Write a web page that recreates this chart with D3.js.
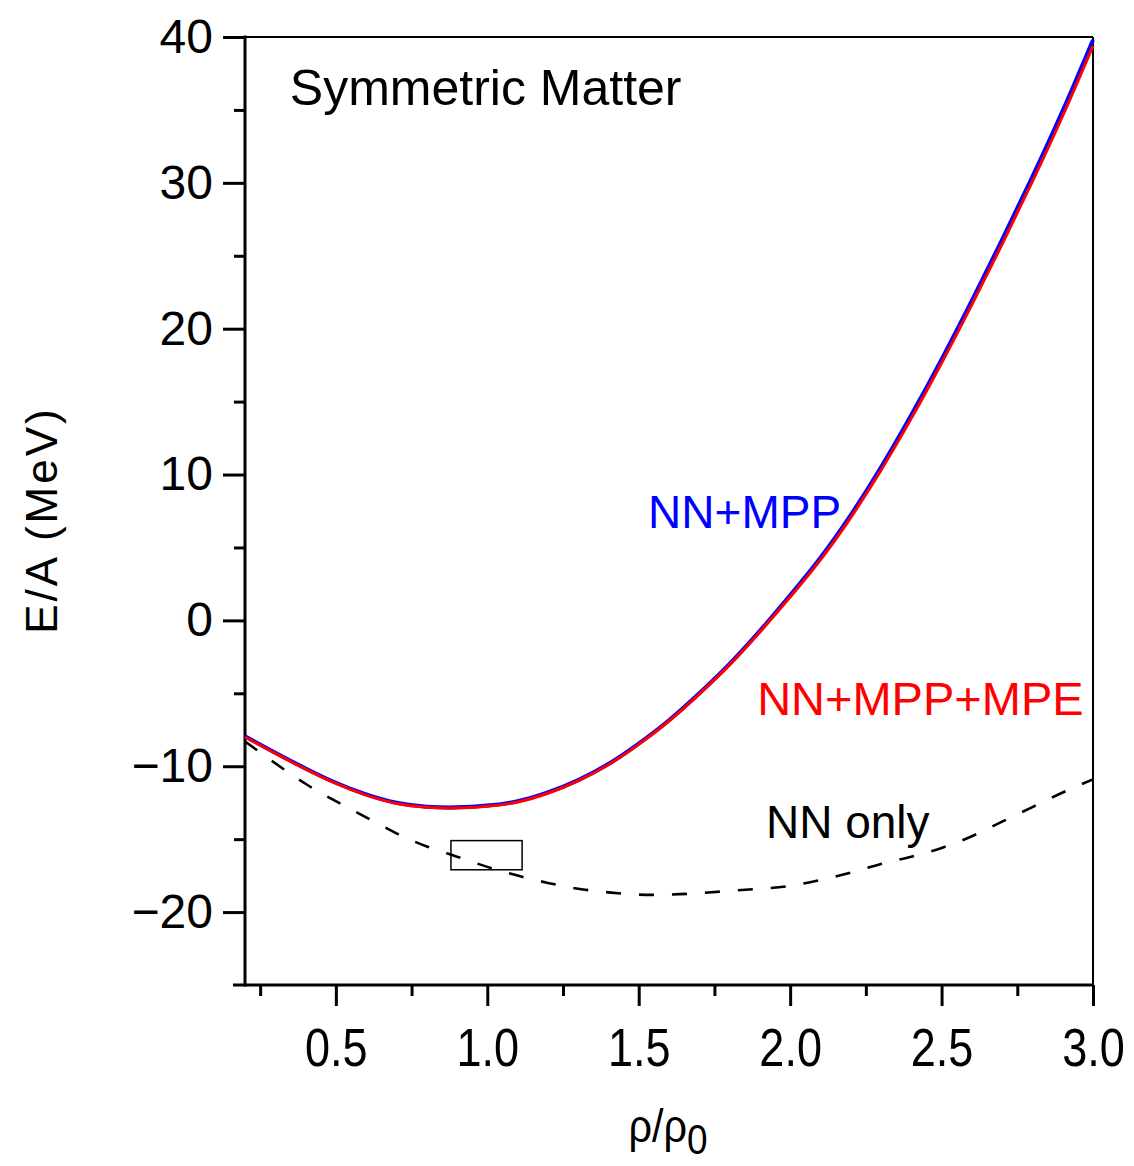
<!DOCTYPE html>
<html>
<head>
<meta charset="utf-8">
<script src="https://cdn.jsdelivr.net/npm/d3@7"></script>
<style>
  html, body { margin: 0; padding: 0; background: #fff; }
  svg { display: block; }
  text { font-family: "Liberation Sans", Arial, sans-serif; }
</style>
</head>
<body>
<svg id="chart" width="1134" height="1166"></svg>
<script>
// ---- data ----
const rho = [0.2,0.3,0.4,0.5,0.6,0.7,0.8,0.9,1.0,1.1,1.2,1.3,1.4,1.5,1.6,1.7,1.8,1.9,2.0,2.1,2.2,2.3,2.4,2.5,2.6,2.7,2.8,2.9,3.0];
const eMPP    = [-7.95,-9.07,-10.15,-11.13,-11.93,-12.5,-12.77,-12.82,-12.7,-12.4,-11.8,-10.95,-9.85,-8.45,-6.85,-5.0,-2.98,-0.72,1.72,4.3,7.22,10.5,14.08,17.9,21.92,26.1,30.42,34.95,39.8];
const eMPPMPE = [-8.0,-9.12,-10.2,-11.18,-11.98,-12.55,-12.82,-12.87,-12.75,-12.45,-11.85,-11.0,-9.9,-8.5,-6.9,-5.05,-3.05,-0.8,1.6,4.15,7.05,10.3,13.85,17.65,21.65,25.8,30.1,34.6,39.4];
const eNN     = [-8.3,-9.8,-11.2,-12.4,-13.5,-14.6,-15.5,-16.2,-16.9,-17.5,-18.0,-18.4,-18.65,-18.8,-18.8,-18.7,-18.55,-18.4,-18.2,-17.8,-17.3,-16.7,-16.2,-15.6,-14.8,-13.8,-12.8,-11.8,-10.9];
const xMajorTicks = [0.5,1.0,1.5,2.0,2.5,3.0];
const xMinorTicks = [0.25,0.75,1.25,1.75,2.25,2.75];
const yMajorTicks = [-20,-10,0,10,20,30,40];
const yMinorTicks = [-15,-5,5,15,25,35];
const boxRho = [0.88, 1.115];
const boxE = [-15.1, -17.1];
const labels = [
  {text: "Symmetric Matter", rho: 0.348, e: 35.34, color: "#000", size: 50},
  {text: "NN+MPP", rho: 1.531, e: 6.34, color: "#0000ff", size: 46},
  {text: "NN+MPP+MPE", rho: 1.891, e: -6.49, color: "#ff0000", size: 47},
  {text: "NN only", rho: 1.92, e: -14.92, color: "#000", size: 46}
];

// ---- layout ----
const L = 245, R = 1093, T = 37, B = 985;
const svg = d3.select("#chart");
const x = d3.scaleLinear().domain([0.2, 3.0]).range([L, R]);
const y = d3.scaleLinear().domain([-25, 40]).range([B, T]);

// axes
const fmtY = d => d < 0 ? "\u2212" + Math.abs(d) : String(d);
const gy = svg.append("g").attr("transform", `translate(${L},0)`)
  .call(d3.axisLeft(y).tickValues(yMajorTicks).tickSize(22).tickPadding(10).tickFormat(fmtY));
gy.select(".domain").remove();
gy.selectAll(".tick line").attr("stroke", "#000").attr("stroke-width", 3);
gy.selectAll(".tick text").attr("font-size", 48).attr("fill", "#000")
  .style("font-family", '"Liberation Sans", Arial, sans-serif');

const gyMinor = svg.append("g").attr("transform", `translate(${L},0)`)
  .call(d3.axisLeft(y).tickValues(yMinorTicks).tickSize(11).tickFormat(""));
gyMinor.select(".domain").remove();
gyMinor.selectAll(".tick line").attr("stroke", "#000").attr("stroke-width", 3);

const gx = svg.append("g").attr("transform", `translate(0,${B})`)
  .call(d3.axisBottom(x).tickValues(xMajorTicks).tickSize(21).tickPadding(22).tickFormat(d3.format(".1f")));
gx.select(".domain").remove();
gx.selectAll(".tick line").attr("stroke", "#000").attr("stroke-width", 3);
gx.selectAll(".tick text").attr("font-size", 53).attr("fill", "#000")
  .attr("transform", "scale(0.85,1)")
  .style("font-family", '"Liberation Sans", Arial, sans-serif');

const gxMinor = svg.append("g").attr("transform", `translate(0,${B})`)
  .call(d3.axisBottom(x).tickValues(xMinorTicks).tickSize(11).tickFormat(""));
gxMinor.select(".domain").remove();
gxMinor.selectAll(".tick line").attr("stroke", "#000").attr("stroke-width", 3);

// frame
svg.append("line").attr("x1", R).attr("x2", R).attr("y1", T).attr("y2", B)
  .attr("stroke", "#000").attr("stroke-width", 2);
svg.append("line").attr("x1", L).attr("x2", R).attr("y1", T).attr("y2", T)
  .attr("stroke", "#000").attr("stroke-width", 2);
svg.append("line").attr("x1", L).attr("x2", L).attr("y1", T - 1.5).attr("y2", B + 1.5)
  .attr("stroke", "#000").attr("stroke-width", 3);
svg.append("line").attr("x1", L - 12).attr("x2", R).attr("y1", B).attr("y2", B)
  .attr("stroke", "#000").attr("stroke-width", 3);

// curves
const line = d3.line().x(d => x(d[0])).y(d => y(d[1])).curve(d3.curveNatural);
svg.append("path").datum(rho.map((r, i) => [r, eNN[i]]))
  .attr("d", line).attr("fill", "none").attr("stroke", "#000")
  .attr("stroke-width", 2.6).attr("stroke-dasharray", "15,18");
svg.append("path").datum(rho.map((r, i) => [r, eMPP[i]]))
  .attr("d", line).attr("fill", "none").attr("stroke", "#0000ff").attr("stroke-width", 4);
svg.append("path").datum(rho.map((r, i) => [r, eMPPMPE[i]]))
  .attr("d", line).attr("fill", "none").attr("stroke", "#ff0000").attr("stroke-width", 3);

// small box
svg.append("rect")
  .attr("x", x(boxRho[0])).attr("y", y(boxE[0]))
  .attr("width", x(boxRho[1]) - x(boxRho[0])).attr("height", y(boxE[1]) - y(boxE[0]))
  .attr("fill", "none").attr("stroke", "#000").attr("stroke-width", 1.5);

// in-plot labels
const lab = svg.append("g");
lab.selectAll("text").data(labels).join("text")
  .attr("x", d => x(d.rho)).attr("y", d => y(d.e))
  .attr("fill", d => d.color)
  .attr("font-size", d => d.size)
  .text(d => d.text);

// axis titles
svg.append("text")
  .attr("transform", "translate(57,520) rotate(-90)")
  .attr("text-anchor", "middle").attr("font-size", 44).attr("letter-spacing", 3)
  .attr("fill", "#000").text("E/A (MeV)");

const xt = svg.append("text")
  .attr("transform", "translate(668,1142) scale(0.88,1)")
  .attr("text-anchor", "middle").attr("font-size", 47).attr("fill", "#000");
xt.append("tspan").text("\u03C1/\u03C1");
xt.append("tspan").attr("dy", 12).attr("font-size", 42).text("0");
</script>
</body>
</html>
